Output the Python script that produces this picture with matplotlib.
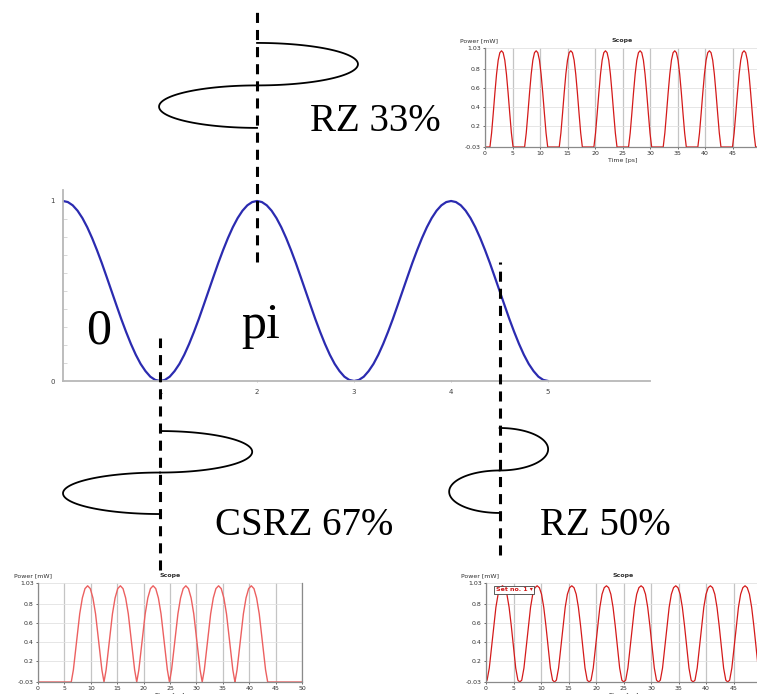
import numpy as np
import matplotlib
matplotlib.use("Agg")
import matplotlib.pyplot as plt

W, H = 757, 694

# modulator transfer curve (normalised power vs drive), sampled every 0.05
bias = np.arange(0, 101) / 20
transmission = [1.0, 0.994, 0.976, 0.946, 0.905, 0.854, 0.794, 0.727, 0.655, 0.578, 0.5,
                0.422, 0.345, 0.273, 0.206, 0.146, 0.095, 0.055, 0.024, 0.006, 0.0,
                0.006, 0.024, 0.055, 0.095, 0.146, 0.206, 0.273, 0.345, 0.422, 0.5,
                0.578, 0.655, 0.727, 0.794, 0.854, 0.905, 0.946, 0.976, 0.994, 1.0,
                0.994, 0.976, 0.946, 0.905, 0.854, 0.794, 0.727, 0.655, 0.578, 0.5,
                0.422, 0.345, 0.273, 0.206, 0.146, 0.095, 0.055, 0.024, 0.006, 0.0,
                0.006, 0.024, 0.055, 0.095, 0.146, 0.206, 0.273, 0.345, 0.422, 0.5,
                0.578, 0.655, 0.727, 0.794, 0.854, 0.905, 0.946, 0.976, 0.994, 1.0,
                0.994, 0.976, 0.946, 0.905, 0.854, 0.794, 0.727, 0.655, 0.578, 0.5,
                0.422, 0.345, 0.273, 0.206, 0.146, 0.095, 0.055, 0.024, 0.006, 0.0]

# bias points and drive swing
mark_names = ["RZ 33%", "CSRZ 67%", "RZ 50%"]
mark_bias = [2, 1, 4.5]
swing_right = [1.04, 0.95, 0.50]
swing_left = [1.01, 1.00, 0.52]

# scope traces: pulse centres [ps] and pulse shape (offset [ps], power [mW])
rz33_peaks = [3.0, 9.3, 15.6, 21.9, 28.2, 34.5, 40.8, 47.1]
rz33_off = [-2.1, -1.8, -1.5, -1.2, -0.9, -0.6, -0.3, 0, 0.3, 0.6, 0.9, 1.2, 1.5, 1.8, 2.1]
rz33_val = [-0.03, 0.12, 0.33, 0.55, 0.75, 0.9, 0.98, 1.0, 0.98, 0.9, 0.75, 0.55, 0.33, 0.12, -0.03]

csrz_peaks = [9.4, 15.6, 21.8, 28.0, 34.2, 40.4]
csrz_off = [-3.1, -2.7, -2.3, -1.9, -1.5, -1.0, -0.5, 0, 0.5, 1.0, 1.5, 1.9, 2.3, 2.7, 3.1]
csrz_val = [-0.03, 0.1, 0.3, 0.5, 0.7, 0.87, 0.97, 1.0, 0.97, 0.87, 0.7, 0.5, 0.3, 0.1, -0.03]

rz50_peaks = [3.0, 9.3, 15.6, 21.9, 28.2, 34.5, 40.8, 47.1]
rz50_off = [-3.15, -2.8, -2.4, -2.0, -1.6, -1.2, -0.8, -0.4, 0, 0.4, 0.8, 1.2, 1.6, 2.0, 2.4, 2.8, 3.15]
rz50_val = [-0.03, -0.01, 0.12, 0.34, 0.57, 0.77, 0.91, 0.98, 1.0, 0.98, 0.91, 0.77, 0.57, 0.34, 0.12, -0.01, -0.03]

scope_yticks = [-0.03, 0.2, 0.4, 0.6, 0.8, 1.03]
scope_ylabels = ["-0.03", "0.2", "0.4", "0.6", "0.8", "1.03"]
scope_xticks = list(range(0, 51, 5))

SERIF = "Liberation Serif"


def pulse_train(peaks, off, val):
    t = [0.0]
    p = [-0.03]
    for c in peaks:
        t += [c + o for o in off]
        p += val
    t.append(50.0)
    p.append(-0.03)
    return t, p


def fx(px):
    return px / W


def fy(py):
    return 1 - py / H


def scope(rect, t, p, color, lw, show_legend=False):
    ax = fig.add_axes(rect)
    ax.plot(t, p, color=color, lw=lw, clip_on=True)
    ax.set_xlim(0, 50)
    ax.set_ylim(-0.03, 1.03)
    ax.set_xticks(scope_xticks)
    ax.set_xticklabels([str(v) for v in scope_xticks])
    ax.set_yticks(scope_yticks)
    ax.set_yticklabels(scope_ylabels)
    ax.tick_params(labelsize=4.5, length=1.5, width=0.5, pad=1.5, colors="#303030")
    ax.grid(True, axis="x", color="#c4c4c4", lw=0.9)
    ax.grid(True, axis="y", color="#e2e2e2", lw=0.6)
    ax.set_axisbelow(True)
    for s in ["left", "bottom", "right"]:
        ax.spines[s].set_color("#8a8a8a")
        ax.spines[s].set_linewidth(0.9)
    ax.spines["top"].set_visible(False)
    ax.text(-0.09, 1.05, "Power [mW]", transform=ax.transAxes, fontsize=4.5,
            color="#303030", ha="left", va="bottom")
    ax.text(0.5, 1.05, "Scope", transform=ax.transAxes, fontsize=4.5,
            fontweight="bold", color="#303030", ha="center", va="bottom")
    ax.set_xlabel("Time [ps]", fontsize=4.5, labelpad=1, color="#303030")
    if show_legend:
        ax.text(0.035, 0.93, "Set no. 1 \u25be", transform=ax.transAxes, fontsize=4.5,
                color="#d01818", fontweight="bold", ha="left", va="center",
                bbox=dict(boxstyle="square,pad=0.25", fc="white", ec="#404040", lw=0.6))
    return ax


def swing(ax, x0, right, left, top, bottom):
    mid = (top + bottom) / 2
    ry = (top - mid) / 2
    a = np.linspace(np.pi / 2, -np.pi / 2, 80)
    ax.plot(x0 + right * np.cos(a), (top + mid) / 2 + ry * np.sin(a),
            color="black", lw=1.3, clip_on=False, zorder=5)
    b = np.linspace(np.pi / 2, 3 * np.pi / 2, 80)
    ax.plot(x0 + left * np.cos(b), (mid + bottom) / 2 + ry * np.sin(b),
            color="black", lw=1.3, clip_on=False, zorder=5)


fig = plt.figure(figsize=(W / 100, H / 100), dpi=100)
fig.patch.set_facecolor("white")

# main transfer curve, axes from x=63..650 px, y=190..381 px
ax = fig.add_axes([fx(63), fy(381), (650 - 63) / W, (381 - 190) / H])
ax.set_facecolor("none")
ax.plot(bias, transmission, color="#2b2bb0", lw=1.6, solid_joinstyle="round",
        solid_capstyle="round")
ax.set_xlim(0, 6.05)
ax.set_ylim(0, 1.061)
for s in ["top", "right"]:
    ax.spines[s].set_visible(False)
for s in ["left", "bottom"]:
    ax.spines[s].set_color("#b8b8b8")
    ax.spines[s].set_linewidth(1.3)
ax.set_xticks([1, 2, 3, 4, 5])
ax.set_xticklabels(["1", "2", "3", "4", "5"])
ax.set_yticks([0, 1])
ax.set_yticklabels(["0", "1"])
ax.set_yticks(np.arange(1, 10) / 10, minor=True)
ax.tick_params(axis="both", which="major", labelsize=5, length=2, width=0.6,
               color="#b8b8b8", labelcolor="#404040", pad=5, direction="inout")
ax.tick_params(axis="y", which="minor", length=3, width=0.5, color="#c8c8c8", direction="in")

# dashed bias markers and drive swings
dash_top = [2.06, 0.24, 0.66]
dash_bottom = [0.66, -1.05, -0.967]
swing_top = [1.878, -0.278, -0.261]
swing_bottom = [1.406, -0.739, -0.733]
for i in range(3):
    ax.plot([mark_bias[i], mark_bias[i]], [dash_bottom[i], dash_top[i]], color="black",
            lw=2.2, dashes=(3.3, 2.3), clip_on=False, zorder=6)
    swing(ax, mark_bias[i], swing_right[i], swing_left[i], swing_top[i], swing_bottom[i])

# labels
fig.text(fx(310), fy(131), mark_names[0], fontsize=28, family=SERIF, va="baseline", ha="left")
fig.text(fx(215), fy(535), mark_names[1], fontsize=28, family=SERIF, va="baseline", ha="left")
fig.text(fx(540), fy(535), mark_names[2], fontsize=28, family=SERIF, va="baseline", ha="left")
fig.text(fx(86), fy(343), "0", fontsize=36, family=SERIF, va="baseline", ha="left")
fig.text(fx(241), fy(338), "pi", fontsize=36, family=SERIF, va="baseline", ha="left")

# scope insets
t, p = pulse_train(rz33_peaks, rz33_off, rz33_val)
scope([fx(485), fy(147), 275 / W, 99 / H], t, p, "#d41a1a", 0.9)

t, p = pulse_train(csrz_peaks, csrz_off, csrz_val)
scope([fx(38), fy(682), 264 / W, 99 / H], t, p, "#ec6060", 1.0)

t, p = pulse_train(rz50_peaks, rz50_off, rz50_val)
scope([fx(486), fy(682), 275 / W, 99 / H], t, p, "#d41a1a", 0.9, show_legend=True)

fig.savefig("out.png", dpi=100, facecolor="white")
